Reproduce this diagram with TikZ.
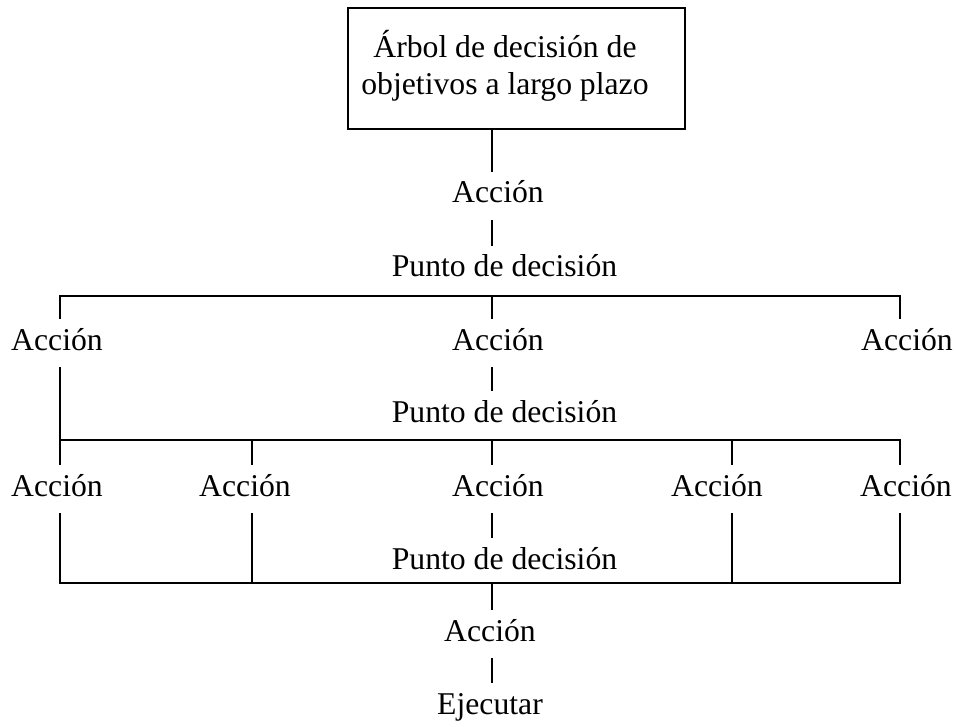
\documentclass[tikz,border=0pt]{standalone}
\usepackage{fontspec}
\setmainfont{Liberation Serif}
\begin{document}
\begin{tikzpicture}[x=1pt, y=-1pt, line width=1.6pt,
    lbl/.style={anchor=base, inner xsep=0pt, inner ysep=8pt, text height=22pt, text depth=8pt,
                font=\fontsize{31.7}{33}\selectfont},
    goalbox/.style={draw, anchor=north west, minimum width=337pt, minimum height=121pt, inner sep=0pt},
    goaltext/.style={align=center, inner sep=0pt, font=\fontsize{31.7}{37}\selectfont}]
    \useasboundingbox (0,0) rectangle (956,727);
    % top box
    \node (goal) [goalbox] at (347,7) {};
    \node (goaltxt) [goaltext] at (505,66) {Árbol de decisión de\\objetivos a largo plazo};
    % labels
    \node (act0) [lbl] at (498,203) {Acción};
    \node (pd1) [lbl] at (504.5,277) {Punto de decisión};
    \node (r1a) [lbl] at (57,350) {Acción};
    \node (r1b) [lbl] at (498,350) {Acción};
    \node (r1c) [lbl] at (907,350) {Acción};
    \node (pd2) [lbl] at (504.5,422) {Punto de decisión};
    \node (r2a) [lbl] at (57,496) {Acción};
    \node (r2b) [lbl] at (245,496) {Acción};
    \node (r2c) [lbl] at (498,496) {Acción};
    \node (r2d) [lbl] at (717,496) {Acción};
    \node (r2e) [lbl] at (906,496) {Acción};
    \node (pd3) [lbl] at (504.5,569) {Punto de decisión};
    \node (act4) [lbl] at (490,641) {Acción};
    \node (run) [lbl] at (490,714) {Ejecutar};
    % columns and bars
    \coordinate (ca) at (60,0);
    \coordinate (cb) at (252,0);
    \coordinate (cm) at (492,0);
    \coordinate (cd) at (732,0);
    \coordinate (ce) at (900,0);
    \coordinate (bar1) at (0,296);
    \coordinate (bar2) at (0,440);
    \coordinate (bar3) at (0,583);
    % trunk
    \draw (goal.south -| cm) -- (act0.north -| cm);
    \draw (act0.south -| cm) -- (pd1.north -| cm);
    % first level
    \draw (r1a.north -| ca) -- (bar1 -| ca) -- (bar1 -| ce) -- (r1c.north -| ce);
    \draw (bar1 -| cm) -- (r1b.north -| cm);
    \draw (r1a.south -| ca) -- (r2a.north -| ca);
    \draw (r1b.south -| cm) -- (pd2.north -| cm);
    % second level
    \draw (bar2 -| ca) -- (bar2 -| ce) -- (r2e.north -| ce);
    \foreach \c/\n in {cb/r2b, cm/r2c, cd/r2d}
        \draw (bar2 -| \c) -- (\n.north -| \c);
    \draw (r2a.south -| ca) -- (bar3 -| ca) -- (bar3 -| ce) -- (r2e.south -| ce);
    \foreach \c/\n in {cb/r2b, cd/r2d}
        \draw (\n.south -| \c) -- (bar3 -| \c);
    \draw (r2c.south -| cm) -- (pd3.north -| cm);
    % last level
    \draw (bar3 -| cm) -- (act4.north -| cm);
    \draw (act4.south -| cm) -- (run.north -| cm);
\end{tikzpicture}
\end{document}
